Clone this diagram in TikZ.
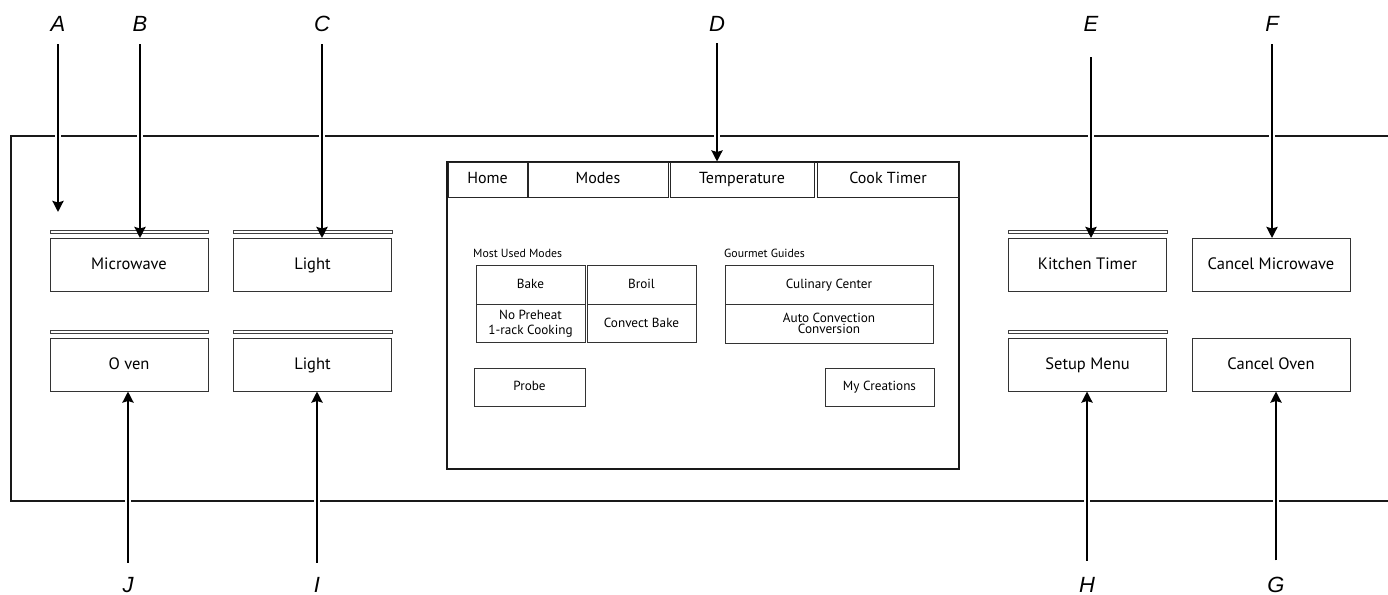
\documentclass[tikz,border=0pt]{standalone}
\usepackage{fontspec}
\setmainfont{PT Sans}
\newfontfamily\lblfont{Liberation Sans}
\usetikzlibrary{arrows.meta}
\begin{document}
\begin{tikzpicture}[x=1pt,y=-1pt,
  panel/.style={line width=2pt, draw=black!90},
  btn/.style={draw=black!80, line width=1pt, inner sep=0pt, minimum width=158pt, minimum height=53pt, text height=0.95em, text depth=0pt, font=\fontsize{16.5}{18}\selectfont},
  dbl/.style={draw=black!75, line width=0.9pt, fill=white},
  tab/.style={draw=black!85, line width=1pt, inner sep=0pt, minimum height=35pt, text height=0.75em, text depth=0pt, font=\fontsize{16}{18}\selectfont},
  ibtn/.style={draw=black!80, line width=0.9pt, inner sep=0pt, minimum width=109pt, align=center, font=\fontsize{13.2}{15}\selectfont},
  one/.style={text height=0.75em, text depth=0pt},
  sect/.style={inner sep=0pt, anchor=west, font=\fontsize{11.8}{12}\selectfont},
  lbl/.style={inner sep=0pt, font=\lblfont\itshape\fontsize{22}{22}\selectfont},
  arr/.style={line width=2.6pt, -{Stealth[length=11pt,width=11pt,inset=1.5pt]},
    preaction={draw=white, line width=6.5pt, -, shorten >=16pt}}
]
\useasboundingbox (0,0) rectangle (1388,594);
\fill[white] (0,0) rectangle (1388,594);

% panel frame
\draw[panel] (1388,136) -- (11,136) -- (11,501) -- (1388,501);

% left buttons
\draw[dbl] (50,230) rectangle (208,233);
\draw[dbl] (233,230) rectangle (392,233);
\draw[dbl] (50,330) rectangle (208,333);
\draw[dbl] (233,330) rectangle (392,333);
\node[btn] (mw) at (129,265) {Microwave};
\node[btn] (lt1) at (312.5,265) {Light};
\node[btn] (ov) at (129,364.5) {O ven};
\node[btn] (lt2) at (312.5,364.5) {Light};

% right buttons
\draw[dbl] (1008,230) rectangle (1167,233);
\draw[dbl] (1008,330) rectangle (1167,333);
\node[btn] (kt) at (1087.5,265) {Kitchen Timer};
\node[btn] (cm) at (1271,265) {Cancel Microwave};
\node[btn] (sm) at (1087.5,364.5) {Setup Menu};
\node[btn] (co) at (1271,364.5) {Cancel Oven};

% display
\draw[draw=black!90, line width=1.3pt] (447,162) rectangle (959,469);
\node[tab, minimum width=79pt] (tHome) at (487.5,179.5) {Home};
\node[tab, minimum width=140pt] (tModes) at (598,179.5) {Modes};
\node[tab, minimum width=144pt] (tTemp) at (742,179.5) {Temperature};
\node[tab, minimum width=142pt] (tCook) at (888,179.5) {Cook Timer};

\node[sect] (smu) at (473,253) {Most Used Modes};
\node[sect] (sgg) at (724,253) {Gourmet Guides};

\node[ibtn, one, minimum height=39pt] (bake) at (530.5,284.5) {Bake};
\node[ibtn, one, minimum height=39pt] (broil) at (641.5,284.5) {Broil};
\node[ibtn, minimum height=38pt] (nop) at (530.5,323.5) {No Preheat\\1-rack Cooking};
\node[ibtn, one, minimum height=38pt] (cvb) at (641.5,323.5) {Convect Bake};
\node[ibtn, one, minimum width=208pt, minimum height=39pt] (cul) at (829,284.5) {Culinary Center};
\node[ibtn, minimum width=208pt, minimum height=39pt, font=\fontsize{13.2}{11.5}\selectfont] (acc) at (829,323.5) {Auto Convection\\Conversion};
\node[ibtn, one, minimum width=111pt, minimum height=38pt] (probe) at (529.5,387) {Probe};
\node[ibtn, one, minimum width=109pt, minimum height=38pt] (myc) at (879.5,387) {My Creations};

% labels
\node[lbl, anchor=base] (lA) at (58,32) {A};
\node[lbl, anchor=base] (lB) at (140,32) {B};
\node[lbl, anchor=base] (lC) at (322,32) {C};
\node[lbl, anchor=base] (lD) at (717,32) {D};
\node[lbl, anchor=base] (lE) at (1091,32) {E};
\node[lbl, anchor=base] (lF) at (1272,32) {F};
\node[lbl, anchor=base] (lJ) at (128,592) {J};
\node[lbl, anchor=base] (lI) at (317,592) {I};
\node[lbl, anchor=base] (lH) at (1087,592) {H};
\node[lbl, anchor=base] (lG) at (1276,592) {G};

\coordinate (tipA) at (58,212);

% arrows
\draw[arr, shorten <=12pt] (lA.south) -- (tipA);
\draw[arr, shorten <=12pt] (lB.south) -- (lB |- mw.north);
\draw[arr, shorten <=12pt] (lC.south) -- (lC |- lt1.north);
\draw[arr, shorten <=11pt] (lD.south) -- (lD |- tTemp.north);
\draw[arr, shorten <=25pt] (lE.south) -- (lE |- kt.north);
\draw[arr, shorten <=12pt] (lF.south) -- (lF |- cm.north);
\draw[arr, shorten <=14pt] (lJ.north) -- (lJ |- ov.south);
\draw[arr, shorten <=14pt] (lI.north) -- (lI |- lt2.south);
\draw[arr, shorten <=16pt] (lH.north) -- (lH |- sm.south);
\draw[arr, shorten <=16pt] (lG.north) -- (lG |- co.south);
\end{tikzpicture}
\end{document}
